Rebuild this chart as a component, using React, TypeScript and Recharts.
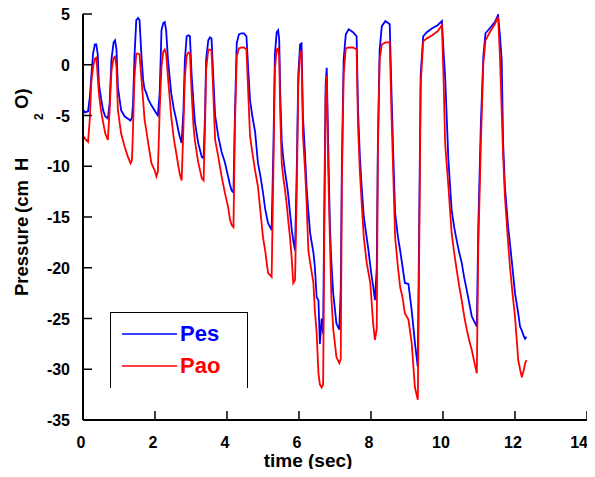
import { LineChart, Line, XAxis, YAxis } from 'recharts'

const FONT = '"Liberation Sans", Arial, sans-serif'

// time axis (sec), one row per breath
const time = [
  0.0, 0.06, 0.14, 0.19, 0.23, 0.28, 0.33, 0.37, 0.41, 0.44, 0.5, 0.56, 0.62, 0.69,
  0.74, 0.79, 0.85, 0.89, 0.93, 0.97, 1.06, 1.16, 1.24, 1.32, 1.36,
  1.39, 1.43, 1.48, 1.53, 1.57, 1.62, 1.67, 1.71, 1.76, 1.81, 1.9, 1.99, 2.04, 2.08,
  2.13, 2.18, 2.23, 2.27, 2.31, 2.36, 2.45, 2.52, 2.59, 2.65, 2.69, 2.74,
  2.79, 2.83, 2.88, 2.93, 2.97, 3.02, 3.07, 3.11, 3.16, 3.2, 3.25, 3.3, 3.35,
  3.39, 3.42, 3.48, 3.53, 3.57, 3.62, 3.67, 3.76, 3.85, 3.94, 4.03, 4.08, 4.13, 4.18,
  4.22, 4.27, 4.33, 4.4, 4.47, 4.54, 4.59, 4.64, 4.71, 4.78, 4.86, 4.93, 5.0, 5.06, 5.14, 5.24,
  5.29, 5.33, 5.38, 5.42, 5.45, 5.48, 5.52, 5.56, 5.61, 5.66, 5.7, 5.75, 5.8, 5.84, 5.89,
  5.94, 5.98, 6.03, 6.07, 6.11, 6.17, 6.21, 6.26, 6.31, 6.4, 6.44, 6.49, 6.54, 6.58, 6.63, 6.67,
  6.7, 6.74, 6.77, 6.81, 6.86, 6.9, 6.95, 7.04, 7.12, 7.16,
  7.19, 7.24, 7.3, 7.38, 7.5, 7.6, 7.64, 7.69, 7.74, 7.8, 7.88, 7.93, 7.98, 8.02, 8.06, 8.11, 8.16,
  8.19, 8.24, 8.3, 8.4, 8.52, 8.57, 8.62, 8.67, 8.75, 8.81, 8.88, 8.94, 9.04, 9.13, 9.22, 9.3,
  9.34, 9.38, 9.45, 9.55, 9.7, 9.85, 9.97, 10.02, 10.06, 10.15, 10.24, 10.31, 10.38, 10.45, 10.52, 10.59, 10.66, 10.73, 10.8, 10.87, 10.94,
  10.98, 11.05, 11.12, 11.18, 11.3, 11.44, 11.53, 11.58, 11.63, 11.67, 11.72, 11.81, 11.86, 11.93, 12.0, 12.09, 12.14, 12.19, 12.25, 12.28, 12.32,
]

// esophageal pressure
const pes = [
  -4.4, -4.7, -4.6, -3.2, -1.2, 1.1, 2.0, 2.0, 1.0, -1.8, -3.3, -4.5, -5.1, -5.3,
  -3.8, 0.5, 2.2, 2.4, 1.5, -2.2, -4.5, -5.1, -5.3, -5.5, -5.2,
  -3.8, 0.8, 4.4, 4.6, 4.4, 1.1, -1.5, -2.4, -2.8, -3.4, -4.0, -4.5, -4.8, -5.0,
  -2.8, 3.4, 4.1, 4.2, 3.4, 0.5, -2.8, -4.3, -5.4, -6.5, -7.1, -7.7,
  -4.5, 0.5, 2.8, 2.9, 2.8, -1.2, -3.8, -5.7, -6.8, -7.7, -8.4, -9.1, -9.2,
  -5.0, 0.5, 2.4, 2.7, 2.6, -1.2, -5.0, -7.1, -8.6, -9.6, -11.0, -11.8, -12.4, -12.6,
  -5.0, 2.1, 3.0, 3.1, 3.1, 2.8, -0.5, -3.5, -5.2, -6.6, -9.7, -11.0, -12.6, -14.2, -15.6, -16.3,
  -8.0, 1.0, 3.2, 3.4, 2.5, -3.0, -7.5, -9.1, -10.5, -11.7, -12.8, -14.6, -16.3, -17.3, -18.3,
  -10.0, -1.0, 2.0, 2.1, -5.1, -9.0, -12.0, -14.5, -16.6, -18.5, -19.9, -22.9, -23.2, -27.5, -25.0, -26.5,
  -15.0, -2.0, -0.3, -7.7, -16.0, -19.5, -22.5, -25.5, -26.1, -22.0,
  -10.0, 0.5, 3.0, 3.5, 3.2, 2.8, -4.5, -9.0, -12.0, -15.0, -17.0, -18.3, -19.8, -20.9, -21.8, -23.2, -20.0,
  -8.0, 1.5, 3.8, 4.3, 4.0, -2.8, -9.0, -14.6, -17.0, -18.3, -20.0, -21.5, -21.6, -24.2, -27.4, -29.8,
  -15.0, -1.0, 2.8, 3.2, 3.6, 3.9, 4.3, 1.0, -1.2, -9.4, -14.3, -16.0, -17.3, -18.5, -19.5, -21.0, -22.2, -23.5, -24.8, -25.3, -25.8,
  -16.0, -6.0, 0.8, 3.1, 3.6, 4.2, 4.9, 3.0, 0.5, -7.7, -12.0, -16.0, -17.6, -20.0, -22.5, -24.5, -25.8, -26.2, -26.8, -27.0, -26.8,
]

// airway opening pressure
const pao = [
  -7.0, -7.3, -7.6, -5.3, -1.8, -0.2, 0.6, 0.7, -1.2, -2.8, -4.5, -5.7, -6.8, -7.4,
  -4.5, -0.6, 0.7, 0.8, -0.2, -4.5, -6.8, -8.1, -9.0, -9.7, -9.4,
  -6.2, -1.2, 1.1, 1.1, 1.0, -1.2, -3.5, -5.4, -6.5, -7.7, -9.7, -10.4, -11.0, -10.5,
  -4.5, -0.2, 1.3, 1.5, 1.1, -1.2, -5.1, -7.2, -8.7, -10.0, -10.8, -11.4,
  -6.1, -1.2, 0.9, 1.2, 1.1, -3.0, -6.1, -7.5, -8.7, -9.6, -10.4, -11.2, -11.4,
  -6.0, -0.5, 1.5, 1.5, 1.4, -2.9, -7.4, -9.1, -11.0, -12.6, -14.0, -15.2, -15.8, -16.0,
  -6.0, 0.8, 1.6, 1.7, 1.7, 1.5, -2.8, -7.0, -8.8, -10.4, -12.0, -14.5, -17.0, -18.3, -20.5, -20.9,
  -10.0, -0.5, 1.5, 1.6, 0.8, -5.0, -9.7, -11.0, -12.3, -13.8, -15.3, -17.0, -19.2, -21.5, -21.2,
  -12.0, -2.0, 1.2, 1.3, -7.0, -10.5, -13.5, -18.3, -19.5, -21.5, -24.2, -26.4, -30.4, -31.5, -31.8, -31.5,
  -18.0, -3.0, -1.1, -10.0, -17.5, -23.0, -26.0, -28.8, -29.4, -29.0,
  -12.0, -1.0, 1.6, 1.7, 1.7, 1.5, -6.1, -10.5, -13.6, -17.0, -19.5, -20.5, -21.5, -23.5, -25.5, -27.1, -26.0,
  -9.0, 0.5, 2.0, 2.2, 2.2, -5.0, -11.0, -17.0, -20.0, -21.9, -23.0, -24.5, -25.1, -27.4, -31.8, -33.0,
  -18.0, -2.0, 2.3, 2.6, 2.9, 3.3, 3.9, -2.0, -7.8, -12.0, -16.6, -18.5, -20.2, -21.8, -23.2, -24.8, -26.1, -27.2, -28.1, -29.3, -30.4,
  -18.0, -8.0, 0.1, 2.4, 3.2, 4.0, 4.7, 1.0, -4.5, -9.0, -13.0, -17.6, -19.9, -22.5, -24.8, -29.1, -30.0, -30.8, -30.0, -29.4, -29.1,
]

const xTicks = [0, 2, 4, 6, 8, 10, 12, 14]
const yTicks = [-35, -30, -25, -20, -15, -10, -5, 0, 5]

const series = [
  { key: 'pes', name: 'Pes', color: '#0000ff' },
  { key: 'pao', name: 'Pao', color: '#ff0000' },
]

const data = time.map((t, i) => ({ t, pes: pes[i], pao: pao[i] }))

const tickText = { fontFamily: FONT, fontSize: 16, fontWeight: 700, fill: '#000' }
const TICK = 9
const X_MAX = xTicks[xTicks.length - 1]

function BottomTick(props: any) {
  const { x, y, payload } = props
  // the last label is kept inside the page edge
  const last = payload.value === X_MAX
  return (
    <g>
      <line x1={x} x2={x} y1={y} y2={y - TICK} stroke="#000" strokeWidth={1.5} />
      <text x={last ? x + 1 : x - 2} y={y + 28} textAnchor={last ? 'end' : 'middle'} {...tickText}>
        {payload.value}
      </text>
    </g>
  )
}

function LeftTick(props: any) {
  const { x, y, payload } = props
  return (
    <g>
      <line x1={x} x2={x + TICK} y1={y} y2={y} stroke="#000" strokeWidth={1.5} />
      <text x={x - 13} y={y + 6} textAnchor="end" {...tickText}>
        {payload.value}
      </text>
    </g>
  )
}

function TopTick(props: any) {
  const { x, y } = props
  return <line x1={x} x2={x} y1={y} y2={y + TICK} stroke="#000" strokeWidth={1.5} />
}

function RightTick(props: any) {
  const { x, y } = props
  return <line x1={x - TICK} x2={x} y1={y} y2={y} stroke="#000" strokeWidth={1.5} />
}

function XTitle() {
  return (
    <text x={300} y={459} textAnchor="middle" fontFamily={FONT} fontSize={19} fontWeight={700} fill="#000">
      time (sec)
    </text>
  )
}

const titleText = { fontFamily: FONT, fontWeight: 700, fill: '#000' }

function YTitle() {
  return (
    <g>
      <text transform="translate(20, 288) rotate(-90)" fontSize={18.5} {...titleText}>
        <tspan x={0}>Pressure</tspan>
        <tspan x={83}>(cm</tspan>
        <tspan x={125}>H</tspan>
        <tspan x={187}>O)</tspan>
      </text>
      <text transform="translate(35, 112) rotate(-90)" fontSize={12} {...titleText}>
        2
      </text>
    </g>
  )
}

function LegendBox() {
  return (
    <div
      style={{
        position: 'absolute',
        left: 102,
        top: 304,
        width: 138,
        height: 76,
        boxSizing: 'border-box',
        borderTop: '1.5px solid #000',
        borderLeft: '1.5px solid #000',
        borderRight: '1.5px solid #000',
      }}
    >
      <svg width={135} height={74} style={{ display: 'block' }}>
        {series.map((s, i) => (
          <g key={s.key}>
            <line x1={11} x2={66} y1={21 + i * 32} y2={21 + i * 32} stroke={s.color} strokeWidth={1.5} />
            <text x={69} y={28 + i * 32} fontFamily={FONT} fontSize={22} fontWeight={700} fill={s.color}>
              {s.name}
            </text>
          </g>
        ))}
      </svg>
    </div>
  )
}

export default function App() {
  return (
    <div style={{ position: 'relative', width: 579, height: 461 }}>
      <style>{'body { overflow: hidden; } .recharts-wrapper, .recharts-surface { overflow: visible !important; }'}</style>
      <LineChart width={579} height={461} data={data} margin={{ top: 6, right: 0, bottom: 0, left: 0 }}>
        <XAxis
          dataKey="t"
          type="number"
          domain={[0, 14]}
          ticks={xTicks}
          interval={0}
          height={49}
          tickSize={0}
          tickMargin={0}
          tickLine={false}
          tick={<BottomTick />}
          axisLine={{ stroke: '#000', strokeWidth: 2 }}
          label={<XTitle />}
          allowDataOverflow
        />
        <XAxis
          xAxisId="top"
          orientation="top"
          dataKey="t"
          type="number"
          domain={[0, 14]}
          ticks={xTicks}
          interval={0}
          height={0}
          tickSize={0}
          tickMargin={0}
          tickLine={false}
          tick={<TopTick />}
          axisLine={{ stroke: '#000', strokeWidth: 2 }}
          allowDataOverflow
        />
        <YAxis
          type="number"
          domain={[-35, 5]}
          ticks={yTicks}
          interval={0}
          width={75}
          tickSize={0}
          tickMargin={0}
          tickLine={false}
          tick={<LeftTick />}
          axisLine={{ stroke: '#000', strokeWidth: 2 }}
          label={<YTitle />}
          allowDataOverflow
        />
        <YAxis
          yAxisId="right"
          orientation="right"
          type="number"
          domain={[-35, 5]}
          ticks={yTicks}
          interval={0}
          width={0}
          tickSize={0}
          tickMargin={0}
          tickLine={false}
          tick={<RightTick />}
          axisLine={{ stroke: '#000', strokeWidth: 2 }}
          allowDataOverflow
        />
        {series.map((s) => (
          <Line
            key={s.key}
            dataKey={s.key}
            name={s.name}
            type="linear"
            stroke={s.color}
            strokeWidth={1.8}
            dot={false}
            isAnimationActive={false}
          />
        ))}
      </LineChart>
      <LegendBox />
    </div>
  )
}
